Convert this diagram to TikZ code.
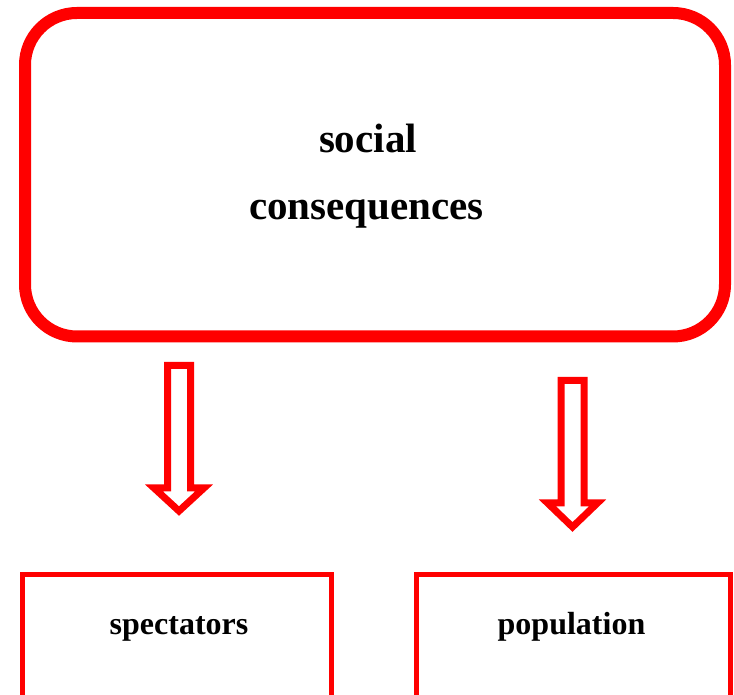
\documentclass[tikz,border=0pt]{standalone}
\usepackage{fontspec}
\setmainfont{Liberation Serif}
\definecolor{pured}{RGB}{255,0,0}
\tikzset{
  bigbox/.style={draw=pured, line width=12pt, rounded corners=52pt, inner sep=0pt, fill=none},
  smallbox/.style={draw=pured, line width=5pt, inner sep=0pt},
  toptext/.style={inner sep=0pt, font=\fontsize{41}{49}\selectfont\bfseries},
  bottext/.style={inner sep=0pt, font=\fontsize{32}{38}\selectfont\bfseries},
  hollowarrow/.style={draw=pured, line width=7pt, fill=white, miter limit=10}
}
\begin{document}
\begin{tikzpicture}[x=1pt,y=1pt]
\clip (0,0) rectangle (734,695);
\fill[white] (0,0) rectangle (734,695);
% top box
\node[bigbox, minimum width=700pt, minimum height=323.5pt] (top) at (375,520.25) {};
\node[toptext, anchor=base] (social) at (368,542) {social};
\node[toptext, anchor=base] (cons) at (366.5,475) {consequences};
% bottom boxes
\node[smallbox, minimum width=309pt, minimum height=140pt] (spec) at (177,50.5) {};
\node[bottext, anchor=base] (spectext) at (179,60) {spectators};
\node[smallbox, minimum width=314pt, minimum height=140pt] (pop) at (573.5,50.5) {};
\node[bottext, anchor=base] (poptext) at (571.5,60) {population};
% hollow arrows
\draw[hollowarrow] (167.5,329.5) -- (190.5,329.5) -- (190.5,207) -- (204,207)
  -- (179,184) -- (154,207) -- (167.5,207) -- cycle;
\draw[hollowarrow] (561,314.5) -- (584,314.5) -- (584,192) -- (597.5,192)
  -- (572.5,168) -- (547.5,192) -- (561,192) -- cycle;
\end{tikzpicture}
\end{document}
